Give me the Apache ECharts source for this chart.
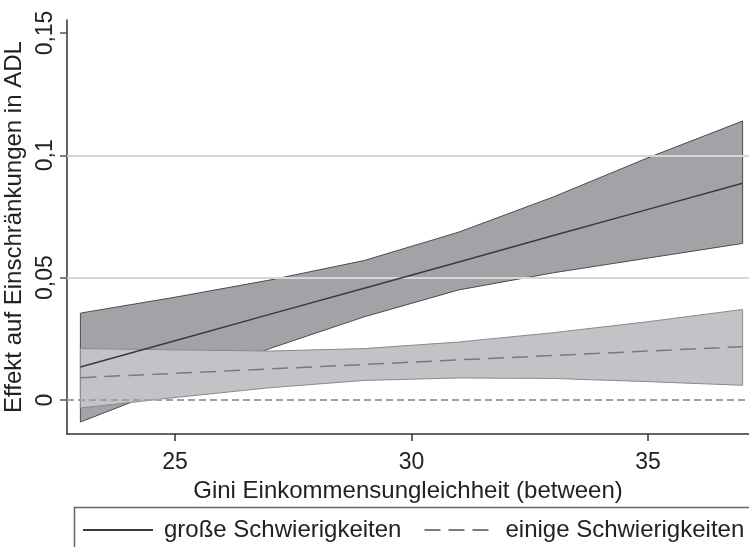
<!DOCTYPE html>
<html>
<head>
<meta charset="utf-8">
<script src="https://cdn.jsdelivr.net/npm/echarts@6/dist/echarts.min.js"></script>
<style>
html,body{margin:0;padding:0;background:#fff;}
#chart{width:749px;height:547px;}
</style>
</head>
<body>
<div id="chart"></div>
<script>
// Data
const xValues = [23, 25, 27, 29, 31, 33, 35, 37];
const grosseEst = [0.0135, 0.0242, 0.0350, 0.0457, 0.0564, 0.0672, 0.0779, 0.0886];
const grosseUpper = [0.0355, 0.042, 0.049, 0.057, 0.0686, 0.083, 0.099, 0.114];
const grosseLower = [-0.009, 0.006, 0.021, 0.034, 0.045, 0.052, 0.058, 0.064];
const einigeEst = [0.0091, 0.0109, 0.0127, 0.0145, 0.0164, 0.0182, 0.0200, 0.0218];
const einigeUpper = [0.021, 0.0205, 0.020, 0.021, 0.0237, 0.0275, 0.032, 0.037];
const einigeLower = [-0.0033, 0.001, 0.005, 0.008, 0.009, 0.0088, 0.0075, 0.006];
const xTicks = [25, 30, 35];
const yTicks = [0, 0.05, 0.1, 0.15];
const gridValues = [0.05, 0.1];
const refValue = 0;
const seriesNames = ['große Schwierigkeiten', 'einige Schwierigkeiten'];
const xTitle = 'Gini Einkommensungleichheit (between)';
const yTitle = 'Effekt auf Einschränkungen in ADL';

const FONT = '"Liberation Sans", Arial, sans-serif';

function bandSeries(upper, lower, fill, stroke, z) {
  return {
    type: 'custom',
    silent: true,
    z: z,
    data: xValues.map((x, i) => [x, lower[i], upper[i]]),
    encode: { x: 0, y: [1, 2] },
    renderItem: function (params, api) {
      if (params.dataIndex !== 0) return null;
      const pts = [];
      for (let i = 0; i < xValues.length; i++) pts.push(api.coord([xValues[i], upper[i]]));
      for (let i = xValues.length - 1; i >= 0; i--) pts.push(api.coord([xValues[i], lower[i]]));
      return {
        type: 'polygon',
        shape: { points: pts },
        style: { fill: fill, stroke: stroke, lineWidth: 1 }
      };
    }
  };
}

const chart = echarts.init(document.getElementById('chart'), null, { renderer: 'canvas' });
chart.setOption({
  animation: false,
  backgroundColor: '#ffffff',
  textStyle: { fontFamily: FONT },
  grid: { left: 67, right: 0, top: 20, bottom: 113, containLabel: false, outerBoundsMode: 'none' },
  legend: {
    data: seriesNames,
    left: 82,
    top: 518,
    padding: 0,
    itemWidth: 70,
    itemHeight: 14,
    itemGap: 22,
    itemStyle: { opacity: 0 },
    textStyle: { fontSize: 24, color: '#222', fontFamily: FONT, padding: [0, 0, 0, 6] }
  },
  graphic: [{
    type: 'rect',
    left: 72, top: 505,
    shape: { width: 690, height: 60 },
    style: { fill: 'none', stroke: '#666', lineWidth: 1.5 },
    silent: true
  }],
  xAxis: {
    type: 'value',
    min: 22.717,
    max: 37.135,
    name: xTitle,
    nameLocation: 'middle',
    nameGap: 34,
    nameTextStyle: { fontSize: 24, color: '#222', fontFamily: FONT },
    axisLine: { show: true, onZero: false, lineStyle: { color: '#333', width: 1.5 } },
    axisTick: { show: true, length: 7, customValues: xTicks, lineStyle: { color: '#333', width: 1.5 } },
    axisLabel: { customValues: xTicks, fontSize: 23, color: '#222', margin: 17, fontFamily: FONT },
    splitLine: { show: false }
  },
  yAxis: {
    type: 'value',
    min: -0.0139,
    max: 0.1553,
    name: yTitle,
    nameLocation: 'middle',
    nameRotate: 90,
    nameGap: 30,
    nameTextStyle: { fontSize: 24, color: '#222', fontFamily: FONT },
    axisLine: { show: true, onZero: false, lineStyle: { color: '#333', width: 1.5 } },
    axisTick: { show: true, length: 7, customValues: yTicks, lineStyle: { color: '#555', width: 1.5 } },
    axisLabel: {
      customValues: yTicks,
      rotate: 90,
      fontSize: 23,
      color: '#222',
      margin: 10,
      fontFamily: FONT,
      formatter: v => String(v).replace('.', ',')
    },
    splitLine: { show: false }
  },
  series: [
    {
      type: 'line',
      name: 'ref',
      z: 1,
      silent: true,
      symbol: 'none',
      data: xValues.map(x => [x, refValue]),
      lineStyle: { opacity: 0 },
      markLine: {
        silent: true,
        symbol: 'none',
        label: { show: false },
        data: [
          { yAxis: gridValues[0], lineStyle: { color: '#d6d6d6', width: 2, type: 'solid' } },
          { yAxis: gridValues[1], lineStyle: { color: '#d6d6d6', width: 2, type: 'solid' } },
          { yAxis: refValue, lineStyle: { color: '#a0a0a0', width: 2, type: [7, 4] } }
        ]
      }
    },
    bandSeries(grosseUpper, grosseLower, '#a3a3a7', '#4a4a4a', 2),
    bandSeries(einigeUpper, einigeLower, '#c3c3c7', '#8a8a8a', 3),
    {
      type: 'line',
      name: seriesNames[0],
      z: 5,
      symbol: 'none',
      data: xValues.map((x, i) => [x, grosseEst[i]]),
      lineStyle: { color: '#3a3a3a', width: 1.5, type: 'solid' },
      itemStyle: { color: '#3a3a3a' }
    },
    {
      type: 'line',
      name: seriesNames[1],
      z: 5,
      symbol: 'none',
      data: xValues.map((x, i) => [x, einigeEst[i]]),
      lineStyle: { color: '#7a7a7a', width: 1.5, type: [16, 8] },
      itemStyle: { color: '#7a7a7a' }
    }
  ]
});
</script>
</body>
</html>
